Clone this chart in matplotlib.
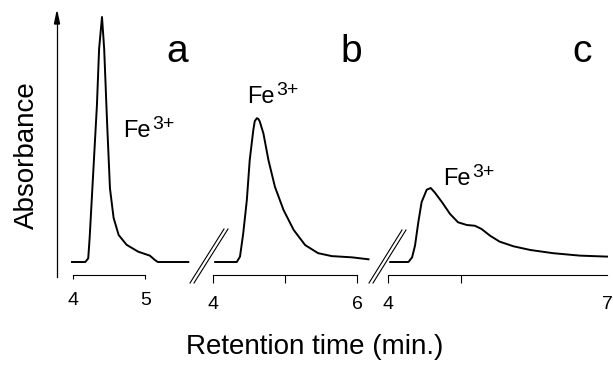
import matplotlib
matplotlib.use("Agg")
import matplotlib.pyplot as plt
from matplotlib.lines import Line2D

plt.rcParams["font.family"] = ["Liberation Sans", "DejaVu Sans"]

# chromatogram a (retention time in min, relative absorbance)
time_a = [3.98, 4.17, 4.21, 4.23, 4.28, 4.33, 4.36, 4.40, 4.43, 4.47, 4.51,
          4.56, 4.63, 4.74, 4.90, 5.06, 5.13, 5.17, 5.59]
abs_a = [0.0, 0.0, 0.015, 0.10, 0.37, 0.64, 0.87, 1.0, 0.87, 0.57, 0.30,
         0.18, 0.11, 0.07, 0.042, 0.026, 0.008, 0.0, 0.0]

# chromatogram b
time_b = [4.03, 4.33, 4.375, 4.42, 4.47, 4.51, 4.56, 4.58, 4.61, 4.63, 4.65,
          4.70, 4.77, 4.86, 4.98, 5.12, 5.28, 5.46, 5.65, 5.93, 6.16]
abs_b = [0.0, 0.0, 0.022, 0.117, 0.253, 0.416, 0.539, 0.575, 0.587, 0.584,
         0.573, 0.525, 0.416, 0.307, 0.212, 0.131, 0.069, 0.036, 0.024,
         0.019, 0.011]

# chromatogram c
time_c = [4.03, 4.28, 4.33, 4.37, 4.415, 4.46, 4.53, 4.585, 4.64, 4.74, 4.85,
          4.96, 5.08, 5.19, 5.28, 5.40, 5.53, 5.72, 5.95, 6.26, 6.63, 7.0]
abs_c = [0.0, 0.0, 0.019, 0.067, 0.162, 0.244, 0.295, 0.302, 0.284, 0.244,
         0.196, 0.162, 0.151, 0.148, 0.135, 0.107, 0.083, 0.064, 0.049,
         0.036, 0.026, 0.022]

panels = [
    # (time, absorbance, xlim, px of t=4, px per min, ticks, labels)
    (time_a, abs_a, (3.97, 5.65), 73, 72.5, [4, 5], ["4", "5"]),
    (time_b, abs_b, (3.97, 6.2), 213, 72.0, [4, 5, 6], ["4", "", "6"]),
    (time_c, abs_c, (3.97, 7.05), 388, 73.0, [4, 5], ["4", ""]),
]
spine_ends = [5, 6, 7]

W, H = 613, 367
fig = plt.figure(figsize=(W / 100, H / 100), dpi=100)


def fx(px):
    return px / W


def fy(py):
    return 1 - py / H


bottom_px, top_px = 275, 15
ylim = (-(bottom_px - 262) / 245, (262 - top_px) / 245)

for i, (t, a, xl, x4, scale, ticks, labels) in enumerate(panels):
    left = x4 + (xl[0] - 4) * scale
    right = x4 + (xl[1] - 4) * scale
    ax = fig.add_axes([fx(left), fy(bottom_px), fx(right - left),
                       (bottom_px - top_px) / H])
    ax.plot(t, a, color="black", lw=1.4)
    ax.set_xlim(*xl)
    ax.set_ylim(*ylim)
    for s in ["top", "right", "left"]:
        ax.spines[s].set_visible(False)
    ax.spines["bottom"].set_bounds(4, spine_ends[i])
    ax.spines["bottom"].set_linewidth(0.8)
    ax.set_yticks([])
    ax.set_xticks(ticks, labels=labels)
    ax.tick_params(axis="x", direction="out", length=3 if i == 0 else 6,
                   width=0.8, labelsize=14, pad=9)
    if i == 2:
        ax.set_xticks([7], labels=["7"], minor=True)
        ax.tick_params(axis="x", which="minor", length=0, labelsize=14, pad=15)
    ax.patch.set_visible(False)

# Fe3+ labels and panel letters (figure pixels, baseline)
for (x, y) in [(123, 137), (247, 103), (443, 185)]:
    fig.text(fx(x), fy(y), "Fe", fontsize=17, va="baseline")
    fig.text(fx(x + 29), fy(y - 8), "3+", fontsize=14, va="baseline")
for (x, y, s) in [(166, 62, "a"), (340, 62, "b"), (572, 62, "c")]:
    fig.text(fx(x), fy(y), s, fontsize=28, va="baseline")

# y axis arrow
fig.add_artist(Line2D([fx(57), fx(57)], [fy(277), fy(20)], color="black", lw=0.9))
fig.patches.append(plt.Polygon(
    [(fx(54.5), fy(24)), (fx(59.5), fy(24)), (fx(57), fy(12))],
    closed=True, color="black", transform=fig.transFigure, figure=fig))

# axis break marks
for (x0, y0, x1, y1) in [(190, 283, 224, 229), (369, 283, 402, 230)]:
    for d in (0, 4):
        fig.add_artist(Line2D([fx(x0 + d), fx(x1 + d)], [fy(y0), fy(y1)],
                              color="black", lw=0.8))

fig.text(fx(27), fy(155), "Absorbance", rotation=90, fontsize=20,
         ha="center", va="center")
fig.text(fx(315), fy(347), "Retention time (min.)", fontsize=20,
         ha="center", va="center")

fig.savefig("out.png", dpi=100)
